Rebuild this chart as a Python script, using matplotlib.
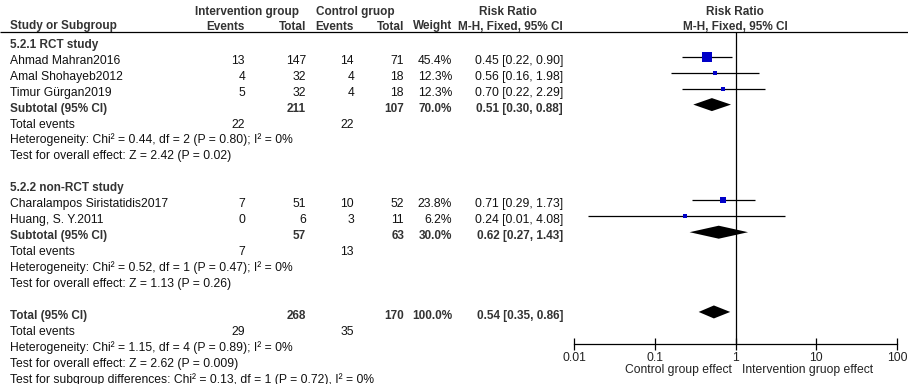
import matplotlib
matplotlib.use("Agg")
import matplotlib.pyplot as plt

plt.rcParams['font.family'] = ['Liberation Sans', 'DejaVu Sans']

# ---------------- data ----------------
subgroup_names = ["5.2.1 RCT study", "5.2.2 non-RCT study"]
studies = ["Ahmad Mahran2016", "Amal Shohayeb2012", "Timur Gürgan2019",
           "Charalampos Siristatidis2017", "Huang, S. Y.2011"]
study_group = [0, 0, 0, 1, 1]
int_events = [13, 4, 5, 7, 0]
int_total = [147, 32, 32, 51, 6]
ctrl_events = [14, 4, 4, 10, 3]
ctrl_total = [71, 18, 18, 52, 11]
weights = [45.4, 12.3, 12.3, 23.8, 6.2]
rr = [0.45, 0.56, 0.70, 0.71, 0.24]
rr_lo = [0.22, 0.16, 0.22, 0.29, 0.0147]
rr_hi = [0.90, 1.98, 2.29, 1.73, 4.08]

sub_int_total = [211, 57]
sub_ctrl_total = [107, 63]
sub_weight = [70.0, 30.0]
sub_rr = [0.51, 0.62]
sub_lo = [0.30, 0.27]
sub_hi = [0.88, 1.43]
sub_int_events = [22, 7]
sub_ctrl_events = [22, 13]
sub_het = ["Heterogeneity: Chi² = 0.44, df = 2 (P = 0.80); I² = 0%",
           "Heterogeneity: Chi² = 0.52, df = 1 (P = 0.47); I² = 0%"]
sub_test = ["Test for overall effect: Z = 2.42 (P = 0.02)",
            "Test for overall effect: Z = 1.13 (P = 0.26)"]

tot_int_total = 268
tot_ctrl_total = 170
tot_weight = 100.0
tot_rr = 0.54
tot_lo = 0.35
tot_hi = 0.86
tot_int_events = 29
tot_ctrl_events = 35
tot_het = "Heterogeneity: Chi² = 1.15, df = 4 (P = 0.89); I² = 0%"
tot_test = "Test for overall effect: Z = 2.62 (P = 0.009)"
subgroup_diff = "Test for subgroup differences: Chi² = 0.13, df = 1 (P = 0.72), I² = 0%"

tick_vals = [0.01, 0.1, 1, 10, 100]
tick_labels = ["0.01", "0.1", "1", "10", "100"]
left_label = "Control group effect"
right_label = "Intervention gruop effect"

# ---------------- layout ----------------
W, H = 908, 384
fig = plt.figure(figsize=(W / 100, H / 100), dpi=100)
fig.patch.set_facecolor('white')
tx = fig.add_axes([0, 0, 1, 1])
tx.set_xlim(0, W)
tx.set_ylim(H, 0)
tx.axis('off')

X0, X1 = 574, 897
fa = fig.add_axes([X0 / W, 0, (X1 - X0) / W, 1])
fa.set_xscale('log')
fa.set_xlim(0.01, 100)
fa.set_ylim(H, 0)
fa.patch.set_alpha(0)
for s in ['left', 'right', 'top']:
    fa.spines[s].set_visible(False)
fa.set_yticks([])
fa.spines['bottom'].set_position(('data', 344))
fa.spines['bottom'].set_linewidth(0.9)
fa.set_xticks(tick_vals)
fa.set_xticklabels(tick_labels)
fa.minorticks_off()
fa.tick_params(axis='x', direction='inout', length=9, width=0.9, pad=1.5,
               labelsize=8.7, colors='black')
for lab in fa.get_xticklabels():
    lab.set_color('#222222')

FS = 8.7
FSB = 8.5
REG = '#111111'
BOLD = '#333333'
ROW0, DY, OFF = 40.8, 15.95, 7.0
C_IE, C_IT, C_CE, C_CT, C_W, C_CI = 245, 306, 354, 404, 452, 563
C_NAME = 10


def row_y(i):
    return ROW0 + DY * i


def txt(x, y, s, ha='left', bold=False):
    tx.text(x, y + OFF, s, ha=ha, va='baseline', fontsize=FSB if bold else FS,
            fontweight='bold' if bold else 'normal', color=BOLD if bold else REG)


# header
hb = 15
for x, s in [(247, "Intervention group"), (355, "Control gruop"),
             (508, "Risk Ratio"), (735, "Risk Ratio")]:
    tx.text(x, hb, s, ha='center', va='baseline', fontsize=FSB, fontweight='bold', color=BOLD)
hb2 = 29.5
for x, s, ha in [(C_NAME, "Study or Subgroup", 'left'), (C_IE, "Events", 'right'),
                 (C_IT, "Total", 'right'), (C_CE, "Events", 'right'),
                 (C_CT, "Total", 'right'), (C_W, "Weight", 'right'),
                 (C_CI, "M-H, Fixed, 95% CI", 'right'), (735, "M-H, Fixed, 95% CI", 'center')]:
    tx.text(x, hb2, s, ha=ha, va='baseline', fontsize=FSB, fontweight='bold', color=BOLD)
tx.hlines(32.3, 0, W, color='black', lw=0.9)

fa.vlines(1, 32.3, 344, color='black', lw=0.9, zorder=1)

wmax = max(weights)


def diamond(i, est, lo, hi):
    y = row_y(i)
    h = 6.5
    fa.fill([lo, est, hi, est], [y, y - h, y, y + h], color='black', lw=0, zorder=3)


def ci_text(est, lo, hi):
    return f"{est:.2f} [{lo:.2f}, {hi:.2f}]"


r = 0
for g, gname in enumerate(subgroup_names):
    txt(C_NAME, row_y(r), gname, bold=True)
    r += 1
    for k in range(len(studies)):
        if study_group[k] != g:
            continue
        y = row_y(r)
        txt(C_NAME, y, studies[k])
        txt(C_IE, y, str(int_events[k]), 'right')
        txt(C_IT, y, str(int_total[k]), 'right')
        txt(C_CE, y, str(ctrl_events[k]), 'right')
        txt(C_CT, y, str(ctrl_total[k]), 'right')
        txt(C_W, y, f"{weights[k]:.1f}%", 'right')
        txt(C_CI, y, ci_text(rr[k], rr_lo[k], rr_hi[k]), 'right')
        fa.hlines(y, rr_lo[k], rr_hi[k], color='black', lw=0.9, zorder=2)
        px = 2.5 + 7.5 * (weights[k] / wmax) ** 1.3
        fa.plot([rr[k]], [y], marker='s', ms=px * 0.72, mew=0, color='#0000c8', zorder=4)
        r += 1
    y = row_y(r)
    txt(C_NAME, y, "Subtotal (95% CI)", bold=True)
    txt(C_IT, y, str(sub_int_total[g]), 'right', bold=True)
    txt(C_CT, y, str(sub_ctrl_total[g]), 'right', bold=True)
    txt(C_W, y, f"{sub_weight[g]:.1f}%", 'right', bold=True)
    txt(C_CI, y, ci_text(sub_rr[g], sub_lo[g], sub_hi[g]), 'right', bold=True)
    diamond(r, sub_rr[g], sub_lo[g], sub_hi[g])
    r += 1
    y = row_y(r)
    txt(C_NAME, y, "Total events")
    txt(C_IE, y, str(sub_int_events[g]), 'right')
    txt(C_CE, y, str(sub_ctrl_events[g]), 'right')
    r += 1
    txt(C_NAME, row_y(r), sub_het[g])
    r += 1
    txt(C_NAME, row_y(r), sub_test[g])
    r += 2

y = row_y(r)
txt(C_NAME, y, "Total (95% CI)", bold=True)
txt(C_IT, y, str(tot_int_total), 'right', bold=True)
txt(C_CT, y, str(tot_ctrl_total), 'right', bold=True)
txt(C_W, y, f"{tot_weight:.1f}%", 'right', bold=True)
txt(C_CI, y, ci_text(tot_rr, tot_lo, tot_hi), 'right', bold=True)
diamond(r, tot_rr, tot_lo, tot_hi)
r += 1
y = row_y(r)
txt(C_NAME, y, "Total events")
txt(C_IE, y, str(tot_int_events), 'right')
txt(C_CE, y, str(tot_ctrl_events), 'right')
r += 1
txt(C_NAME, row_y(r), tot_het)
r += 1
txt(C_NAME, row_y(r), tot_test)
r += 1
txt(C_NAME, row_y(r), subgroup_diff)

tx.text(732, 373, left_label, ha='right', va='baseline', fontsize=FS, color='#222222')
tx.text(742, 373, right_label, ha='left', va='baseline', fontsize=FS, color='#222222')

fig.savefig("out.png", dpi=100)
